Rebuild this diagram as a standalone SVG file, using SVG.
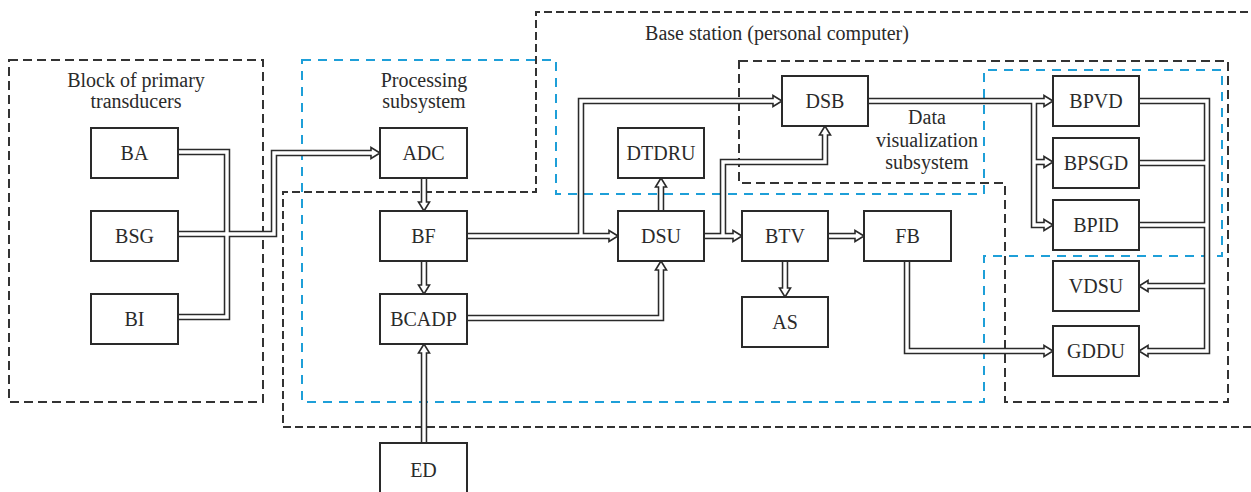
<svg xmlns="http://www.w3.org/2000/svg" xmlns:xlink="http://www.w3.org/1999/xlink" width="1251" height="492" viewBox="0 0 1251 492">
<style>
  .bg { fill: #ffffff; }
  .bd { fill: none; stroke: #333333; stroke-width: 2; stroke-dasharray: 9 5; }
  .bs { fill: none; stroke: #333333; stroke-width: 2; stroke-dasharray: 8 4; }
  .bl { fill: none; stroke: #1e9fd8; stroke-width: 2; stroke-dasharray: 9 7; }
  .o { fill: none; stroke: #2a2a2a; stroke-width: 6.5; stroke-linejoin: miter; }
  .i { fill: none; stroke: #ffffff; stroke-width: 3.4; stroke-linejoin: miter; }
  .ah { fill: #ffffff; stroke: #2a2a2a; stroke-width: 1.6; stroke-linejoin: miter; }
  .box { fill: #ffffff; stroke: #2a2a2a; stroke-width: 2; }
  .nl, .gl { font-family: "Liberation Serif", "Tinos", "Times New Roman", Times, "Noto Serif", "DejaVu Serif", "FreeSerif", serif; font-size: 20px; text-anchor: middle; fill: #2a2a2a; }
</style>
<defs>
  <path id="ah" d="M0,0 L-9,-5.5 L-9,5.5 Z"/>
  <path id="c1" d="M178,152 H227 V317 H178"/>
  <path id="c2" d="M178,234 H274 V153 H372"/>
  <path id="c3" d="M424,178 V203"/>
  <path id="c4" d="M424,261 V286"/>
  <path id="c5" d="M424,443 V352"/>
  <path id="c6" d="M467,236 H610"/>
  <path id="c7" d="M581,236 V101 H774"/>
  <path id="c8" d="M661,211 V186"/>
  <path id="c9" d="M467,318 H661 V269"/>
  <path id="c10" d="M704,236 H734"/>
  <path id="c11" d="M723,236 V162 H825 V134"/>
  <path id="c12" d="M828,236 H856"/>
  <path id="c13" d="M785,261 V289"/>
  <path id="c14" d="M907,261 V351 H1045"/>
  <path id="c15" d="M868,101 H1045"/>
  <path id="c16" d="M1034,101 V225 H1045"/>
  <path id="c17" d="M1034,162 H1045"/>
  <path id="c18" d="M1139,101 H1207 V351 H1147"/>
  <path id="c19" d="M1139,163 H1207"/>
  <path id="c20" d="M1139,225 H1207"/>
  <path id="c21" d="M1207,286 H1147"/>
</defs>
<rect class="bg" x="0" y="0" width="1251" height="492"/>

<g id="groups">
  <rect id="block-primary" class="bd" x="9" y="60" width="254" height="342"/>
  <path id="base-station" class="bs" d="M1260,12 H536 V192 H283 V427 H1260"/>
  <path id="data-vis" class="bd" d="M739,61 H1228 V402 H1005 V183 H739 Z"/>
  <path id="processing" class="bl" d="M302,60 H556 V194 H984 V70 H1222 V256 H984 V402 H302 Z"/>
  <text class="gl" x="136" y="87">Block of primary</text>
  <text class="gl" x="136" y="108">transducers</text>
  <text class="gl" x="424" y="87">Processing</text>
  <text class="gl" x="424" y="108">subsystem</text>
  <text class="gl" x="777" y="40">Base station (personal computer)</text>
  <text class="gl" x="927" y="124">Data</text>
  <text class="gl" x="927" y="147">visualization</text>
  <text class="gl" x="927" y="169">subsystem</text>
</g>

<g id="connectors">
  <g id="conn-outer">
    <use xlink:href="#c1" class="o"/><use xlink:href="#c2" class="o"/><use xlink:href="#c3" class="o"/>
    <use xlink:href="#c4" class="o"/><use xlink:href="#c5" class="o"/><use xlink:href="#c6" class="o"/>
    <use xlink:href="#c7" class="o"/><use xlink:href="#c8" class="o"/><use xlink:href="#c9" class="o"/>
    <use xlink:href="#c10" class="o"/><use xlink:href="#c11" class="o"/><use xlink:href="#c12" class="o"/>
    <use xlink:href="#c13" class="o"/><use xlink:href="#c14" class="o"/><use xlink:href="#c15" class="o"/>
    <use xlink:href="#c16" class="o"/><use xlink:href="#c17" class="o"/><use xlink:href="#c18" class="o"/>
    <use xlink:href="#c19" class="o"/><use xlink:href="#c20" class="o"/><use xlink:href="#c21" class="o"/>
  </g>
  <g id="conn-heads">
    <use xlink:href="#ah" class="ah" transform="translate(380,153)"/>
    <use xlink:href="#ah" class="ah" transform="translate(424,211) rotate(90)"/>
    <use xlink:href="#ah" class="ah" transform="translate(424,294) rotate(90)"/>
    <use xlink:href="#ah" class="ah" transform="translate(424,344) rotate(-90)"/>
    <use xlink:href="#ah" class="ah" transform="translate(618,236)"/>
    <use xlink:href="#ah" class="ah" transform="translate(782,101)"/>
    <use xlink:href="#ah" class="ah" transform="translate(661,178) rotate(-90)"/>
    <use xlink:href="#ah" class="ah" transform="translate(661,261) rotate(-90)"/>
    <use xlink:href="#ah" class="ah" transform="translate(742,236)"/>
    <use xlink:href="#ah" class="ah" transform="translate(825,126) rotate(-90)"/>
    <use xlink:href="#ah" class="ah" transform="translate(864,236)"/>
    <use xlink:href="#ah" class="ah" transform="translate(785,297) rotate(90)"/>
    <use xlink:href="#ah" class="ah" transform="translate(1053,351)"/>
    <use xlink:href="#ah" class="ah" transform="translate(1053,101)"/>
    <use xlink:href="#ah" class="ah" transform="translate(1053,225)"/>
    <use xlink:href="#ah" class="ah" transform="translate(1053,162)"/>
    <use xlink:href="#ah" class="ah" transform="translate(1139,351) rotate(180)"/>
    <use xlink:href="#ah" class="ah" transform="translate(1139,286) rotate(180)"/>
  </g>
  <g id="conn-inner">
    <use xlink:href="#c1" class="i"/><use xlink:href="#c2" class="i"/><use xlink:href="#c3" class="i"/>
    <use xlink:href="#c4" class="i"/><use xlink:href="#c5" class="i"/><use xlink:href="#c6" class="i"/>
    <use xlink:href="#c7" class="i"/><use xlink:href="#c8" class="i"/><use xlink:href="#c9" class="i"/>
    <use xlink:href="#c10" class="i"/><use xlink:href="#c11" class="i"/><use xlink:href="#c12" class="i"/>
    <use xlink:href="#c13" class="i"/><use xlink:href="#c14" class="i"/><use xlink:href="#c15" class="i"/>
    <use xlink:href="#c16" class="i"/><use xlink:href="#c17" class="i"/><use xlink:href="#c18" class="i"/>
    <use xlink:href="#c19" class="i"/><use xlink:href="#c20" class="i"/><use xlink:href="#c21" class="i"/>
  </g>
</g>

<g id="nodes">
<g id="node-BA"><rect class="box" x="91" y="128" width="87" height="50"/><text class="nl" x="134.5" y="160">BA</text></g>
<g id="node-BSG"><rect class="box" x="91" y="211" width="87" height="50"/><text class="nl" x="134.5" y="243">BSG</text></g>
<g id="node-BI"><rect class="box" x="91" y="294" width="87" height="50"/><text class="nl" x="134.5" y="326">BI</text></g>
<g id="node-ADC"><rect class="box" x="380" y="128" width="87" height="50"/><text class="nl" x="423.5" y="160">ADC</text></g>
<g id="node-BF"><rect class="box" x="380" y="211" width="87" height="50"/><text class="nl" x="423.5" y="243">BF</text></g>
<g id="node-BCADP"><rect class="box" x="380" y="294" width="87" height="50"/><text class="nl" x="423.5" y="326">BCADP</text></g>
<g id="node-ED"><rect class="box" x="380" y="443" width="87" height="60"/><text class="nl" x="423.5" y="477">ED</text></g>
<g id="node-DTDRU"><rect class="box" x="618" y="128" width="86" height="50"/><text class="nl" x="661" y="160">DTDRU</text></g>
<g id="node-DSU"><rect class="box" x="618" y="211" width="86" height="50"/><text class="nl" x="661" y="243">DSU</text></g>
<g id="node-DSB"><rect class="box" x="782" y="76" width="86" height="50"/><text class="nl" x="825" y="108">DSB</text></g>
<g id="node-BTV"><rect class="box" x="742" y="211" width="86" height="50"/><text class="nl" x="785" y="243">BTV</text></g>
<g id="node-AS"><rect class="box" x="742" y="297" width="86" height="50"/><text class="nl" x="785" y="329">AS</text></g>
<g id="node-FB"><rect class="box" x="864" y="211" width="87" height="50"/><text class="nl" x="907.5" y="243">FB</text></g>
<g id="node-BPVD"><rect class="box" x="1053" y="76" width="86" height="50"/><text class="nl" x="1096" y="108">BPVD</text></g>
<g id="node-BPSGD"><rect class="box" x="1053" y="138" width="86" height="50"/><text class="nl" x="1096" y="170">BPSGD</text></g>
<g id="node-BPID"><rect class="box" x="1053" y="200" width="86" height="50"/><text class="nl" x="1096" y="232">BPID</text></g>
<g id="node-VDSU"><rect class="box" x="1053" y="261" width="86" height="50"/><text class="nl" x="1096" y="293">VDSU</text></g>
<g id="node-GDDU"><rect class="box" x="1053" y="326" width="86" height="50"/><text class="nl" x="1096" y="358">GDDU</text></g>
</g>
</svg>
